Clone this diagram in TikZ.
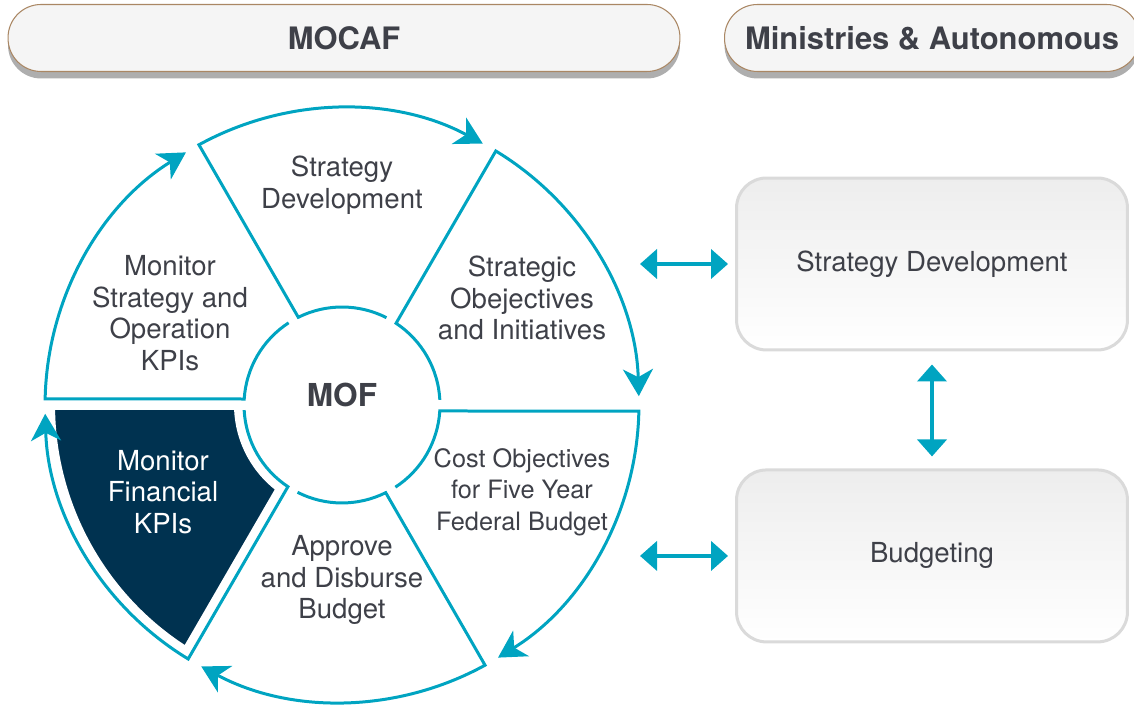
\documentclass[tikz,border=0pt]{standalone}
\usepackage{fontspec}
\setmainfont{TeX Gyre Heros}
\usetikzlibrary{arrows.meta, calc, shadows}
\usetikzlibrary{positioning}

\definecolor{cycleteal}{RGB}{0,164,193}
\definecolor{kpinavy}{RGB}{0,50,80}
\definecolor{labelgray}{RGB}{62,64,72}
\definecolor{tabbrown}{RGB}{170,135,100}
\definecolor{boxgray}{RGB}{218,218,218}
\definecolor{tabfill}{RGB}{245,245,245}

\begin{document}
\begin{tikzpicture}
    [
        x=0.02cm, y=0.02cm,
        label text/.style = {
            font=\fontsize{15.7}{17.9}\selectfont, text=labelgray, align=center
            },
        tab/.style = {
            rounded corners=0.66cm, draw=tabbrown, line width=0.6pt, fill=tabfill,
            minimum height=1.34cm, text=labelgray,
            font=\fontsize{17.6}{20}\selectfont\bfseries,
            drop shadow={shadow xshift=0cm, shadow yshift=-0.14cm, opacity=0.45, fill=black!70}
            },
        stage/.style = {
            label text, rounded corners=0.6cm, draw=boxgray, line width=0.06cm,
            top color=black!7, bottom color=white,
            minimum width=7.82cm, minimum height=3.44cm
            },
        sectorline/.style = {
            draw=cycleteal, line width=0.06cm,
            -{Stealth[length=0.54cm, width=0.6cm, inset=0.16cm]}
            },
        link/.style = {
            draw=cycleteal, line width=0.08cm,
            {Triangle[length=0.34cm, width=0.58cm]}-{Triangle[length=0.34cm, width=0.58cm]}
            },
    ]
    \useasboundingbox (0,0) rectangle (1134,705);
    \clip (0,0) rectangle (1134,705);
    \def\rin{1.96cm}
    \def\rout{5.94cm}

    %header tabs
    \node[tab, minimum width=13.44cm] (mocaf) at (344,667) {MOCAF};
    \node[tab, minimum width=8.3cm] (ministries) at (932,667) {Ministries \& Autonomous};

    %cycle
    \coordinate (C) at (342,300);
    \fill[kpinavy, draw=white, line width=0.4cm]
        ($(C)+(179:\rout)$) arc[start angle=179, end angle=238.8, radius=\rout]
        -- ($(C)+(236.5:\rin)$) arc[start angle=236.5, end angle=177, radius=\rin] -- cycle;
    \foreach \a in {180,120,60,0,-60,-120}
        \draw[sectorline] ($(C)+(\a-57:\rin)$) arc[start angle=\a-57, end angle=\a-3.5, radius=\rin]
            -- ($(C)+(\a-1.2:\rout)$) arc[start angle=\a-1.2, end angle=\a-58.3, radius=\rout];

    %nodes
    \node[label text, font=\fontsize{18}{20}\selectfont\bfseries] (mof) at (342,310) {MOF};
    \node[label text] (strategy) at (342,520) {Strategy\\Development};
    \node[label text] (objectives) at (522,407) {Strategic\\Obejectives\\and Initiatives};
    \node[label text, font=\fontsize{14.4}{17.9}\selectfont] (cost) at (522,213) {Cost Objectives\\for Five Year\\Federal Budget};
    \node[label text] (approve) at (342,125) {Approve\\and Disburse\\Budget};
    \node[label text, text=white] (financial) at (163,213) {Monitor\\Financial\\KPIs};
    \node[label text] (monitor) at (170,392) {Monitor\\Strategy and\\Operation\\KPIs};

    \node[stage] (strategybox) at (932,441) {Strategy Development};
    \node[stage] (budgetbox) [below=2.34cm of strategybox] {Budgeting};

    %connecting nodes
    \coordinate (h1) at (640,441);
    \coordinate (h2) at (h1 |- budgetbox.west);
    \draw[link, shorten >=0.14cm] (h1) -- (strategybox.west);
    \draw[link, shorten >=0.14cm] (h2) -- (budgetbox.west);
    \draw[link, shorten <=0.26cm, shorten >=0.24cm] (strategybox.south) -- (budgetbox.north);

\end{tikzpicture}
\end{document}
